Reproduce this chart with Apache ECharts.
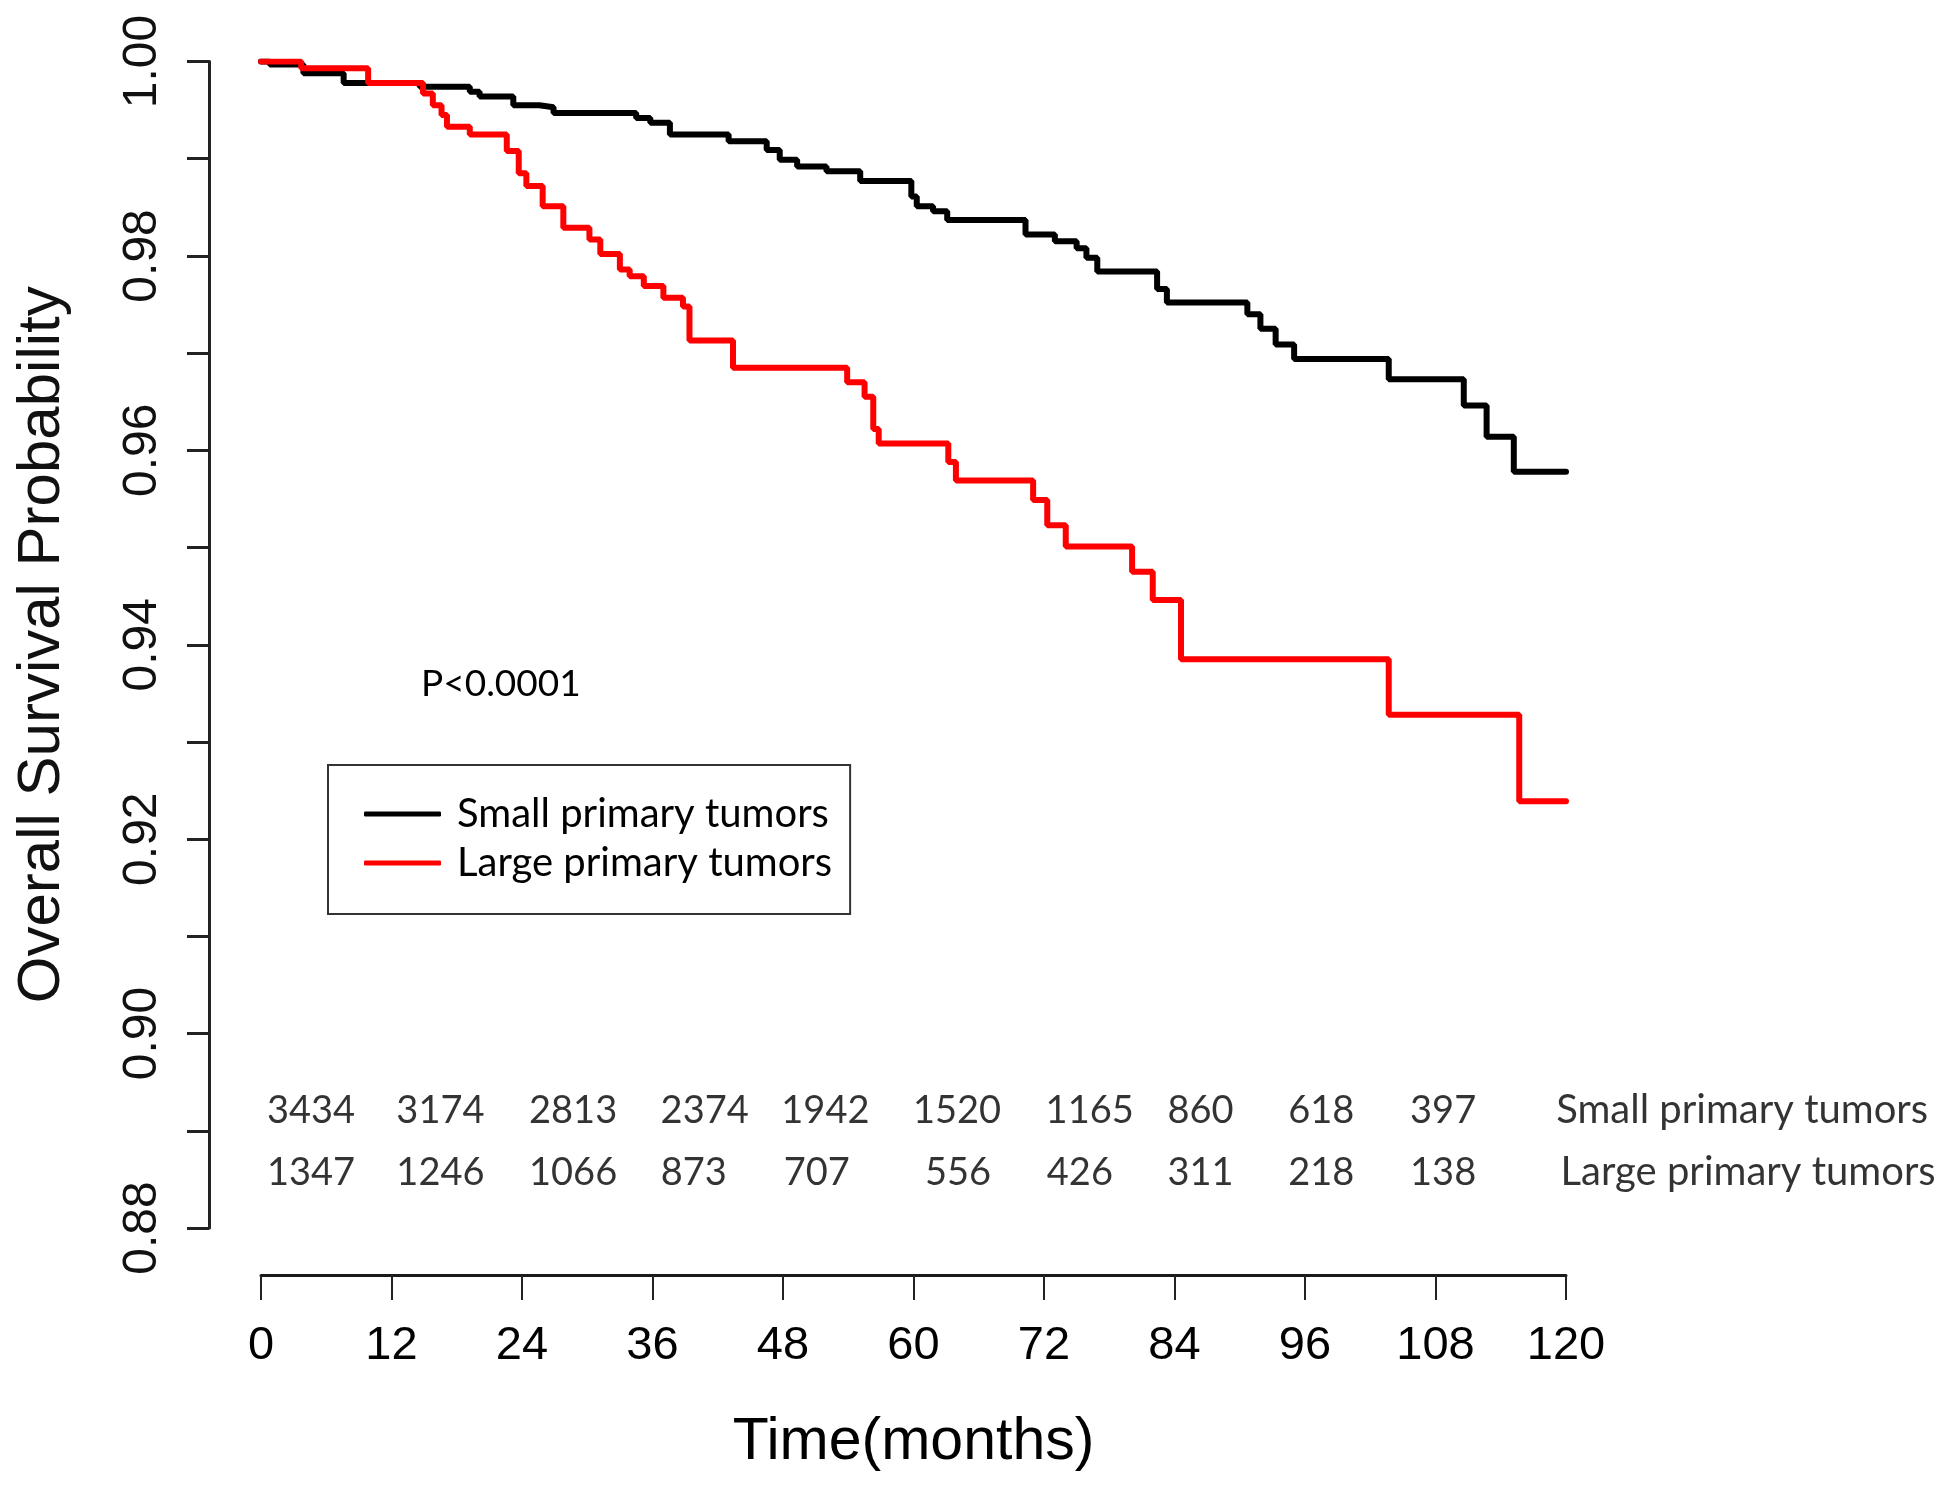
<!DOCTYPE html>
<html>
<head>
<meta charset="utf-8">
<script src="https://cdn.jsdelivr.net/npm/echarts@6/dist/echarts.min.js"></script>
<style>
html,body{margin:0;padding:0;background:#fff;}
#c{width:1950px;height:1490px;}
</style>
</head>
<body>
<div id="c"></div>
<script>
// ---------- DATA ----------
const groupNames = ['Small primary tumors', 'Large primary tumors'];

// Kaplan-Meier step points (time in months, survival probability after the step)
const smallTime = [0, 0.8, 3.9, 7.6, 14.6, 19.2, 20.1, 23.2, 25.6, 26.9, 34.5, 35.8, 37.6, 43.0, 46.5, 47.7, 49.3, 52.0, 55.1, 59.8, 60.3, 61.8, 63.1, 70.3, 73.0, 75.0, 75.9, 76.9, 82.4, 83.3, 90.7, 91.9, 93.3, 95.0, 103.7, 110.6, 112.7, 115.2, 120];
const smallSurv = [1.0, 0.9997, 0.9988, 0.9978, 0.9974, 0.9969, 0.9964, 0.9955, 0.9953, 0.9947, 0.9942, 0.9937, 0.9925, 0.9918, 0.9909, 0.9899, 0.9892, 0.9887, 0.9877, 0.9861, 0.9851, 0.9846, 0.9837, 0.9822, 0.9815, 0.9808, 0.9798, 0.9784, 0.9766, 0.9752, 0.9740, 0.9725, 0.9709, 0.9694, 0.9673, 0.9646, 0.9614, 0.9578, 0.9578];

const largeTime = [0, 3.7, 9.85, 14.9, 15.8, 16.6, 17.1, 19.2, 22.6, 23.7, 24.4, 25.9, 27.8, 30.2, 31.2, 33.0, 33.9, 35.2, 37.0, 38.8, 39.4, 43.4, 53.9, 55.5, 56.3, 56.8, 63.2, 63.9, 71.0, 72.3, 74.0, 80.1, 82.0, 84.6, 103.7, 115.7, 120];
const largeSurv = [1.0, 0.9993, 0.9978, 0.9967, 0.9955, 0.9945, 0.9933, 0.9925, 0.9908, 0.9885, 0.9872, 0.9851, 0.9829, 0.9817, 0.9802, 0.9786, 0.9779, 0.9769, 0.9757, 0.9748, 0.9713, 0.9685, 0.9670, 0.9655, 0.9622, 0.9607, 0.9588, 0.9569, 0.9549, 0.9523, 0.9501, 0.9475, 0.9446, 0.9385, 0.9328, 0.9239, 0.9239];

// Numbers at risk
const riskSmall = [3434, 3174, 2813, 2374, 1942, 1520, 1165, 860, 618, 397];
const riskLarge = [1347, 1246, 1066, 873, 707, 556, 426, 311, 218, 138];

const pValueText = 'P<0.0001';

// ---------- LAYOUT (label anchor positions, in axis units) ----------
const riskSmallX = [4.6, 16.5, 28.7, 40.8, 51.9, 64.0, 76.2, 86.4, 97.5, 108.7];
const riskLargeX = [4.6, 16.5, 28.7, 39.8, 51.1, 64.1, 75.3, 86.4, 97.5, 108.7];
const riskRowY = [0.8921, 0.8857];
const riskNameX = [119.1, 119.5];

// ---------- BUILD ----------
const zip = (a, b) => a.map((v, i) => [v, b[i]]);
const smallData = zip(smallTime, smallSurv);
const largeData = zip(largeTime, largeSurv);

const riskData = [];
riskSmall.forEach((n, i) => riskData.push([riskSmallX[i], riskRowY[0], n]));
riskLarge.forEach((n, i) => riskData.push([riskLargeX[i], riskRowY[1], n]));
const nameData = groupNames.map((n, i) => [riskNameX[i], riskRowY[i], n]);

const chart = echarts.init(document.getElementById('c'), null, {renderer: 'canvas'});

const option = {
  backgroundColor: '#ffffff',
  animation: false,
  grid: {left: 261, right: 384, top: 61.5, bottom: 262, containLabel: false},
  xAxis: {
    type: 'value',
    min: 0, max: 120, interval: 12,
    offset: 47,
    axisLine: {show: true, onZero: false, lineStyle: {color: '#1a1a1a', width: 3}},
    axisTick: {show: true, length: 25, lineStyle: {color: '#222', width: 2}},
    axisLabel: {fontFamily: 'Liberation Sans', fontSize: 47, color: '#000', margin: 48},
    splitLine: {show: false},
    name: 'Time(months)',
    nameLocation: 'middle',
    nameGap: 138,
    nameTextStyle: {fontFamily: 'Liberation Sans', fontSize: 59, color: '#000'}
  },
  yAxis: {
    type: 'value',
    min: 0.88, max: 1.0, interval: 0.01,
    offset: 52,
    axisLine: {show: true, onZero: false, lineStyle: {color: '#222', width: 3}},
    axisTick: {show: true, length: 22, lineStyle: {color: '#222', width: 3}},
    axisLabel: {
      rotate: 90,
      fontFamily: 'Liberation Sans', fontSize: 48, color: '#111', margin: 42,
      formatter: v => (Math.round(v * 100) % 2 === 0 ? v.toFixed(2) : '')
    },
    splitLine: {show: false},
    name: 'Overall Survival Probability',
    nameLocation: 'middle',
    nameGap: 137,
    nameTextStyle: {fontFamily: 'Liberation Sans', fontSize: 60, color: '#111'}
  },
  legend: {
    orient: 'vertical',
    left: 328, top: 765,
    data: groupNames,
    icon: 'roundRect',
    itemWidth: 77, itemHeight: 5,
    itemGap: 5,
    padding: [27, 18, 29, 36],
    borderColor: '#333', borderWidth: 2,
    backgroundColor: '#fff',
    textStyle: {fontFamily: 'Lato', fontSize: 40, lineHeight: 44, color: '#000', padding: [0, 0, 0, 11]}
  },
  graphic: [{
    type: 'text', left: 421, top: 666,
    style: {text: pValueText, font: '37px Lato', fill: '#000'}
  }],
  series: [
    {
      name: groupNames[0], type: 'line', step: 'end', data: smallData,
      showSymbol: false, symbol: 'none',
      lineStyle: {color: '#000', width: 6, cap: 'round'},
      itemStyle: {color: '#000'}, z: 3
    },
    {
      name: groupNames[1], type: 'line', step: 'end', data: largeData,
      showSymbol: false, symbol: 'none',
      lineStyle: {color: '#ff0000', width: 6, cap: 'round'},
      itemStyle: {color: '#ff0000'}, z: 4
    },
    {
      name: 'atRisk', type: 'scatter', data: riskData, symbolSize: 0, clip: false, silent: true,
      label: {show: true, position: 'inside', formatter: p => String(p.value[2]),
        fontFamily: 'Lato', fontSize: 38, color: '#000'}
    },
    {
      name: 'rowNames', type: 'scatter', data: nameData, symbolSize: 0, clip: false, silent: true,
      label: {show: true, position: 'inside', align: 'left', formatter: p => String(p.value[2]),
        fontFamily: 'Lato', fontSize: 40, color: '#000'}
    }
  ]
};
chart.setOption(option);
</script>
</body>
</html>
